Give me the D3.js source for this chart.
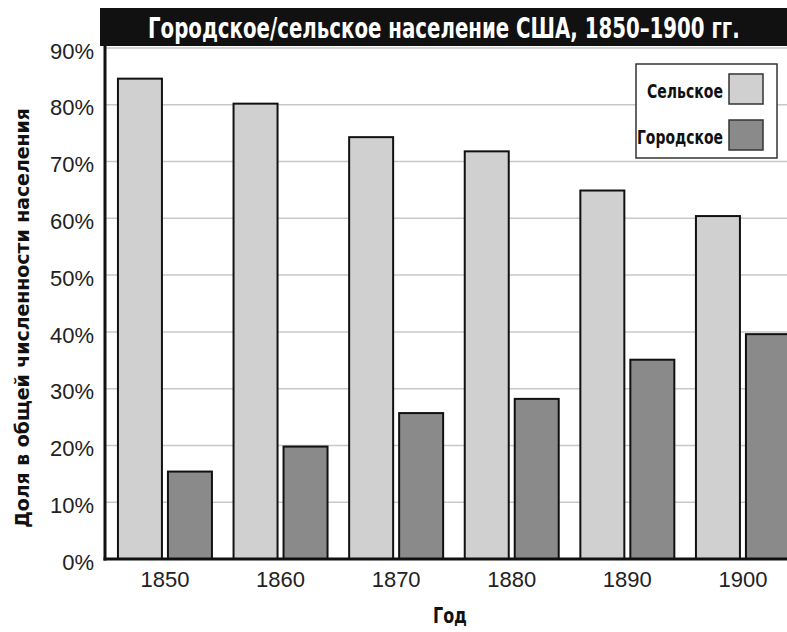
<!DOCTYPE html>
<html><head><meta charset="utf-8">
<script src="https://cdn.jsdelivr.net/npm/d3@7"></script>
<style>
body{margin:0;background:#fff;}
.cond{font-family:"Liberation Sans Narrow","DejaVu Sans Condensed","Arial Narrow",sans-serif;font-weight:bold;}
.reg{font-family:"Liberation Sans",Arial,sans-serif;}
</style></head>
<body>
<script>
const years = ["1850","1860","1870","1880","1890","1900"];
const rural = [84.6, 80.2, 74.3, 71.8, 64.9, 60.4];
const urban = [15.4, 19.8, 25.7, 28.2, 35.1, 39.6];
const seriesNames = ["Сельское","Городское"];
const seriesColors = ["#d0d0d0","#8a8a8a"];
const yTicks = [0,10,20,30,40,50,60,70,80,90];
const title = "Городское/сельское население США, 1850–1900 гг.";
const yTitle = "Доля в общей численности населения";
const xTitle = "Год";

(function(){
const W = 787, H = 632;
const svg = d3.select("body").append("svg").attr("width",W).attr("height",H);

const mLeft = 105, mBottom = 559, mTop = 48;
const y = d3.scaleLinear().domain([0,90]).range([mBottom, mTop]);
const step = 115.6, pi = 0.187, po = 0.112;
const x0 = d3.scaleBand().domain(years).range([mLeft, mLeft + step*(years.length - pi + 2*po)]).paddingInner(pi).paddingOuter(po);
const x1 = d3.scaleBand().domain(seriesNames).range([0, x0.bandwidth()]).paddingInner(0.12);

// fit text horizontally to a target width by scaling
function fitText(sel, x, yb, width){
  const len = sel.node().getComputedTextLength();
  const s = width / len;
  sel.attr("x",0).attr("y",0).attr("transform",`translate(${x},${yb}) scale(${s},1)`);
}

// gridlines
svg.append("g").selectAll("line").data(yTicks.slice(1)).join("line")
  .attr("x1", mLeft).attr("x2", W).attr("y1", d=>y(d)).attr("y2", d=>y(d))
  .attr("stroke","#c8c8c8").attr("stroke-width",1.5);

// bars
const data = years.map((yr,i)=>({year:yr, vals:[rural[i], urban[i]]}));
const g = svg.append("g").selectAll("g").data(data).join("g")
  .attr("transform", d=>`translate(${x0(d.year)},0)`);
g.selectAll("rect").data(d=>d.vals.map((v,j)=>({v, s:seriesNames[j], j}))).join("rect")
  .attr("x", d=>x1(d.s)).attr("width", x1.bandwidth())
  .attr("y", d=>y(d.v)).attr("height", d=>mBottom - y(d.v))
  .attr("fill", d=>seriesColors[d.j]).attr("stroke","#111").attr("stroke-width",2);

// axes lines
svg.append("line").attr("x1",mLeft).attr("x2",mLeft).attr("y1",40).attr("y2",mBottom+1.5)
  .attr("stroke","#111").attr("stroke-width",3);
svg.append("line").attr("x1",mLeft-1.5).attr("x2",W).attr("y1",mBottom).attr("y2",mBottom)
  .attr("stroke","#111").attr("stroke-width",3);

// y tick labels
svg.append("g").selectAll("text").data(yTicks).join("text")
  .attr("class","reg").attr("x",94).attr("y",d=>y(d)+3).attr("dy","0.35em")
  .attr("text-anchor","end").attr("font-size",22).attr("fill","#222")
  .text(d=>d+"%");

// x tick labels
svg.append("g").selectAll("text").data(years).join("text")
  .attr("class","reg").attr("x",d=>x0(d)+x0.bandwidth()/2).attr("y",579).attr("dy","0.35em")
  .attr("text-anchor","middle").attr("font-size",22).attr("fill","#222")
  .text(d=>d);

// title bar
svg.append("rect").attr("x",100).attr("y",8).attr("width",W-100).attr("height",38).attr("fill","#111");
const tt = svg.append("text").attr("class","cond").attr("dy","0.35em")
  .attr("font-size",28).attr("fill","#fff").text(title);
fitText(tt, 148, 28, 592);

// axis titles
const xt = svg.append("text").attr("class","cond")
  .attr("font-size",21).attr("fill","#111").text(xTitle);
fitText(xt, 433, 623, 34);
const yt = svg.append("text").attr("class","cond").attr("dy","0.35em")
  .attr("font-size",20).attr("fill","#111").text(yTitle);
const ylen = yt.node().getComputedTextLength();
yt.attr("transform",`translate(22,528) rotate(-90) scale(${420/ylen},1)`);

// legend
const lg = svg.append("g");
lg.append("rect").attr("x",636).attr("y",64).attr("width",141).attr("height",94)
  .attr("fill","#fff").attr("stroke","#333").attr("stroke-width",1.5);
const legW = [76, 86];
seriesNames.forEach((s,i)=>{
  const cy = 89 + i*46;
  lg.append("rect").attr("x",729).attr("y",cy-15).attr("width",34).attr("height",30)
    .attr("fill",seriesColors[i]).attr("stroke","#333").attr("stroke-width",1.5);
  const t = lg.append("text").attr("class","cond").attr("dy","0.35em")
    .attr("font-size",20).attr("fill","#111").text(s);
  fitText(t, 723 - legW[i], cy+2, legW[i]);
});
})();
</script>
</body></html>
